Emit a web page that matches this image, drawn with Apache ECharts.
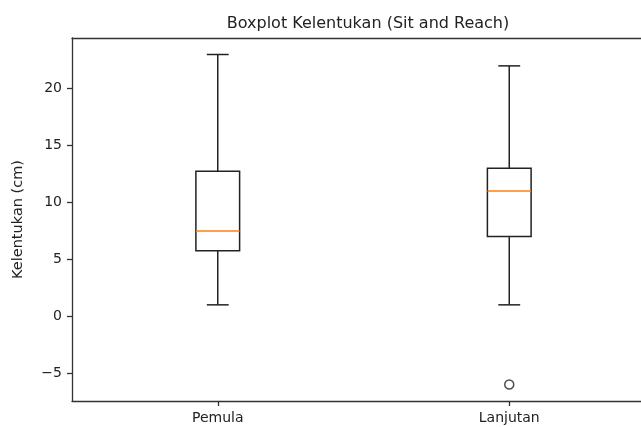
<!DOCTYPE html>
<html>
<head>
<meta charset="utf-8">
<script src="https://cdn.jsdelivr.net/npm/echarts@6/dist/echarts.min.js"></script>
<style>
html,body{margin:0;padding:0;background:#fff;}
#c{width:641px;height:427px;}
</style>
</head>
<body>
<div id="c"></div>
<script>
// Data
var categories = ['Pemula', 'Lanjutan'];
var whiskerLow = [1, 1];
var q1 = [5.75, 7];
var median = [7.5, 11];
var q3 = [12.75, 13];
var whiskerHigh = [23, 22];
var outliers = [[1, -6]]; // [categoryIndex, value]
var yTicks = [-5, 0, 5, 10, 15, 20];

var boxData = categories.map(function (c, i) {
  return [i, whiskerLow[i], q1[i], median[i], q3[i], whiskerHigh[i]];
});

var font = 'DejaVu Sans';
var frame = {color: '#333', width: 1.3};
var chart = echarts.init(document.getElementById('c'), null, {renderer: 'canvas'});

chart.setOption({
  animation: false,
  backgroundColor: '#fff',
  title: {
    text: 'Boxplot Kelentukan (Sit and Reach)',
    left: 363,
    textAlign: 'center',
    top: 11,
    textStyle: {fontFamily: font, fontSize: 16, fontWeight: 'normal', color: '#222'}
  },
  grid: {
    left: 72, top: 38, width: 583, height: 363,
    outerBoundsMode: 'none',
    containLabel: false,
    show: false
  },
  xAxis: [
    {
      type: 'category',
      data: categories,
      boundaryGap: true,
      position: 'bottom',
      axisLine: {show: true, onZero: false, lineStyle: frame},
      axisTick: {show: true, alignWithLabel: true, length: 5, lineStyle: frame},
      axisLabel: {fontFamily: font, fontSize: 14, color: '#222', margin: 10},
      splitLine: {show: false}
    },
    {
      type: 'category',
      data: categories,
      boundaryGap: true,
      position: 'top',
      axisLine: {show: true, onZero: false, lineStyle: frame},
      axisTick: {show: false},
      axisLabel: {show: false},
      splitLine: {show: false}
    }
  ],
  yAxis: {
    type: 'value',
    min: -7.45,
    max: 24.45,
    name: 'Kelentukan (cm)',
    nameLocation: 'middle',
    nameRotate: 90,
    nameGap: 46,
    nameTextStyle: {fontFamily: font, fontSize: 14.5, color: '#222'},
    axisLine: {show: true, onZero: false, lineStyle: frame},
    axisTick: {show: true, length: 5, customValues: yTicks, lineStyle: frame},
    axisLabel: {
      fontFamily: font, fontSize: 14, color: '#222', margin: 10, customValues: yTicks,
      formatter: function (v) { return String(v).replace('-', '\u2212'); }
    },
    splitLine: {show: false}
  },
  series: [
    {
      type: 'custom',
      data: boxData,
      encode: {x: 0, y: [1, 2, 3, 4, 5]},
      renderItem: function (params, api) {
        var xi = api.value(0);
        var band = api.size([1, 0])[0];
        var half = band * 0.075;
        var cap = band * 0.0375;
        var pLow = api.coord([xi, api.value(1)]);
        var pQ1 = api.coord([xi, api.value(2)]);
        var pMed = api.coord([xi, api.value(3)]);
        var pQ3 = api.coord([xi, api.value(4)]);
        var pHigh = api.coord([xi, api.value(5)]);
        var cx = pMed[0];
        var ls = {stroke: '#222', lineWidth: 1.5, fill: null};
        return {
          type: 'group',
          children: [
            {type: 'line', shape: {x1: cx, y1: pLow[1], x2: cx, y2: pQ1[1]}, style: ls},
            {type: 'line', shape: {x1: cx, y1: pQ3[1], x2: cx, y2: pHigh[1]}, style: ls},
            {type: 'line', shape: {x1: cx - cap, y1: pLow[1], x2: cx + cap, y2: pLow[1]}, style: ls},
            {type: 'line', shape: {x1: cx - cap, y1: pHigh[1], x2: cx + cap, y2: pHigh[1]}, style: ls},
            {type: 'rect', shape: {x: cx - half, y: pQ3[1], width: half * 2, height: pQ1[1] - pQ3[1]},
              style: {stroke: '#222', lineWidth: 1.5, fill: '#fff'}},
            {type: 'line', shape: {x1: cx - half, y1: pMed[1], x2: cx + half, y2: pMed[1]},
              style: {stroke: '#ff7f0e', lineWidth: 1.5}}
          ]
        };
      },
      z: 3
    },
    {
      type: 'scatter',
      data: outliers,
      symbol: 'circle',
      symbolSize: 9,
      itemStyle: {color: 'transparent', borderColor: '#222', borderWidth: 1.5},
      z: 4
    }
  ]
});
</script>
</body>
</html>
